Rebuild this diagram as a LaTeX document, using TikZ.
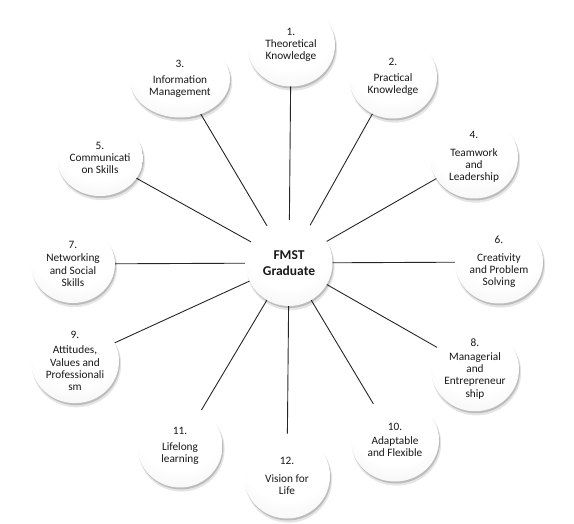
\documentclass[tikz,border=0pt]{standalone}
\usepackage{fontspec}
\setmainfont{Carlito}
\usetikzlibrary{shapes.geometric,shadows,backgrounds}
\pgfdeclareradialshading{ball}{\pgfpoint{0bp}{18bp}}{color(0bp)=(white); color(26bp)=(white); color(46bp)=(black!7); color(62bp)=(black!18); color(72bp)=(black!26)}
\tikzset{
  bubble/.style={ellipse, minimum width=88pt, minimum height=83pt, inner sep=0pt,
    shading=ball, align=center, text=black!90,
    font=\fontsize{11.3}{12.3}\selectfont,
    drop shadow={shadow xshift=1pt, shadow yshift=-2pt, opacity=0.18, fill=black},
    drop shadow={shadow xshift=1.5pt, shadow yshift=-3.5pt, opacity=0.10, fill=black, shadow scale=1.015}},
  hub/.style={bubble, font=\bfseries\fontsize{13.5}{16}\selectfont, minimum width=87pt, minimum height=86pt},
  link/.style={draw=black!85, line width=0.9pt}
}
\begin{document}
\begin{tikzpicture}[x=1pt,y=-1pt]
\useasboundingbox (0,0) rectangle (574,524);
\node[hub] (c) at (289,263) {FMST\\Graduate};
\node[bubble] (n1) at (291,45) {1.\\Theoretical\\Knowledge};
\node[bubble] (n2) at (393,77) {2.\\[3pt]Practical\\Knowledge};
\node[bubble, minimum width=100pt, minimum height=77pt] (n3) at (180,79) {3.\\[4pt]Information\\Management};
\node[bubble] (n4) at (474,157) {4.\\[5pt]Teamwork\\and\\Leadership};
\node[bubble, minimum width=84pt, minimum height=76pt] (n5) at (100,158) {5.\\Communicati\\on Skills};
\node[bubble] (n6) at (499,262) {6.\\[5pt]Creativity\\and Problem\\Solving};
\node[bubble, minimum width=84pt, minimum height=78pt] (n7) at (73,264) {7.\\[1pt]Networking\\and Social\\Skills};
\node[bubble] (n8) at (475,369) {8.\\[1pt]Managerial\\and\\Entrepreneur\\ship};
\node[bubble] (n9) at (75,361) {9.\\[3pt]Attitudes,\\Values and\\Professionali\\sm};
\node[bubble] (n10) at (395,440) {10.\\[1pt]Adaptable\\and Flexible};
\node[bubble, minimum width=85pt] (n11) at (180,446) {11.\\[4pt]Lifelong\\learning};
\node[bubble, minimum width=86pt, minimum height=85pt] (n12) at (287,476) {12.\\[5pt]Vision for\\Life};
\begin{scope}[on background layer]
\foreach \n in {n1,n2,n3,n4,n5,n6,n7,n8,n9,n10,n11,n12}
  \draw[link] (c.center) -- (\n.center);
\end{scope}
\end{tikzpicture}
\end{document}
